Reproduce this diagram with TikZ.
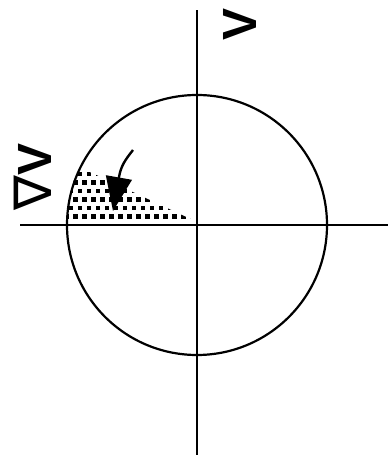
\documentclass[tikz,border=0pt]{standalone}
\usepackage{fontspec}
\setmainfont{Liberation Sans}
\newfontfamily\nablafont{DejaVu Sans}
\usetikzlibrary{arrows.meta}

\begin{document}
\begin{tikzpicture}[x=1pt,y=1pt,
 axis/.style={line width=2.2pt},
 rim/.style={draw, circle, line width=2.2pt, minimum size=260pt, inner sep=0pt},
 lbl/.style={font=\fontsize{48}{48}\selectfont\bfseries, rotate=90, inner sep=0pt},
 dot/.style={fill=black}]
\useasboundingbox (0,0) rectangle (391,457);

% axes and circle
\coordinate (O) at (197,232);
\coordinate (top) at (197,2);
\coordinate (bot) at (197,447);
\coordinate (lft) at (20,232);
\coordinate (rgt) at (388,232);
\draw[axis] (top) -- (bot);
\draw[axis] (lft) -- (rgt);
\node[rim] (C) at (O) {};

% dotted sector
\begin{scope}
\clip ([yshift=3pt]O) -- ++(180:130) arc (180:155:130) -- cycle;
\foreach \j in {0,...,7}
  \foreach \i in {0,...,16}
    {\pgfmathsetmacro{\px}{64+9*\i+4.5*mod(\j,2)}
     \pgfmathsetmacro{\py}{238+8.5*\j}
     \fill[dot] (\px,\py) rectangle ++(4.6,4.6);}
\end{scope}

% arrow
\coordinate (a0) at (133,307);
\coordinate (ab) at (119,280);
\coordinate (a1) at (113,246);
\draw[line width=2.4pt, -{Triangle[length=34pt,width=26pt]}]
  (a0) to[out=-128,in=80] (ab) -- (a1);

% labels
\node[lbl] (V) at (240,432) {V};
\node[lbl] (dV) at (33,280) {{\nablafont\mdseries\fontsize{52}{52}\selectfont ∇}V};
\end{tikzpicture}
\end{document}
